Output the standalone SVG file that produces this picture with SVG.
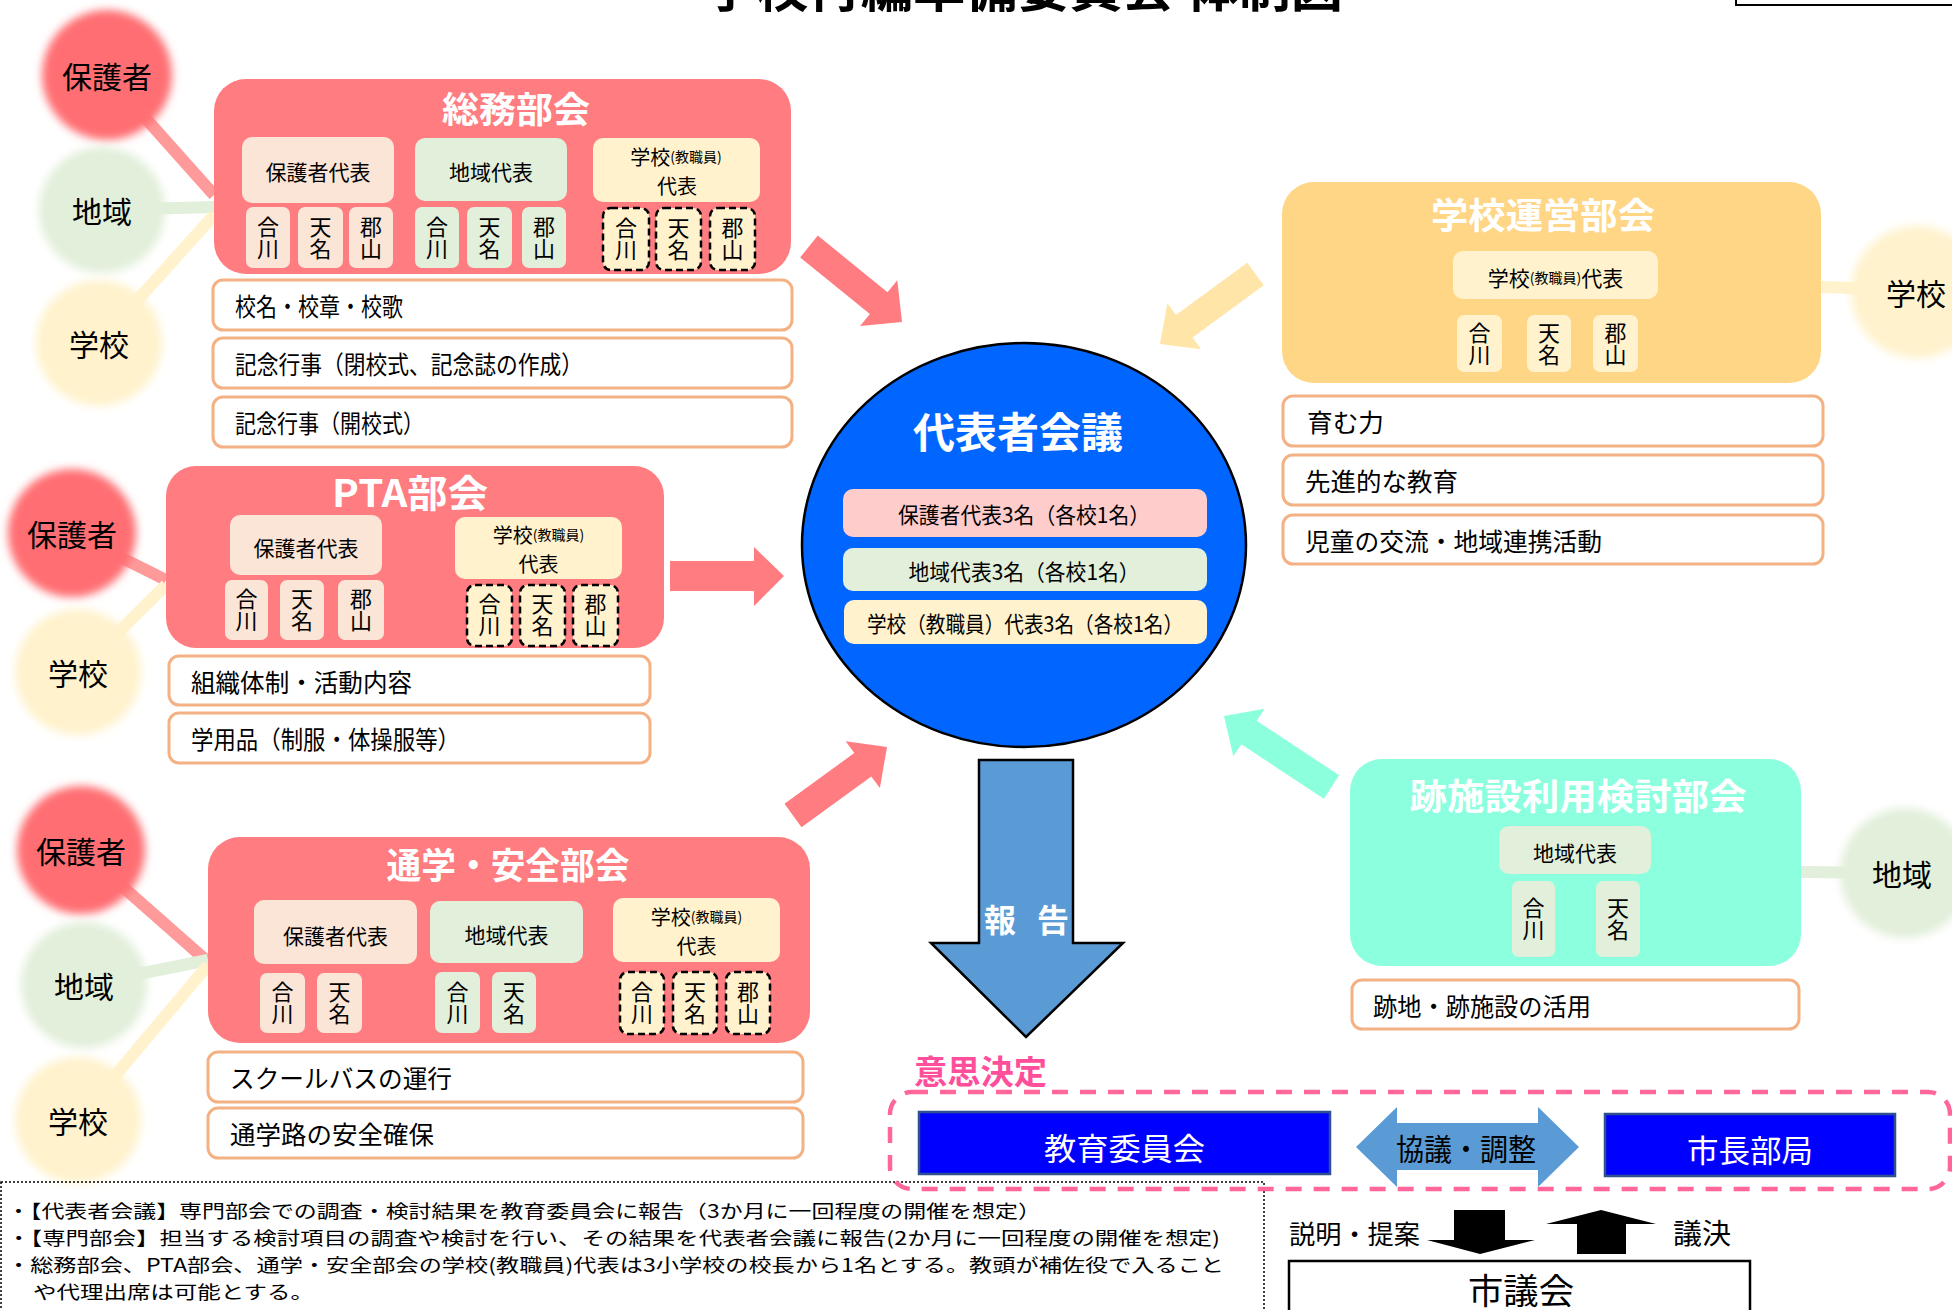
<svg xmlns="http://www.w3.org/2000/svg" width="1952" height="1310" viewBox="0 0 1952 1310">
<defs>
<filter id="soft" x="-25%" y="-25%" width="150%" height="150%"><feGaussianBlur stdDeviation="4.5"/></filter>
</defs>
<style>
text{font-family:"Noto Sans CJK JP","Noto Sans",sans-serif;fill:#000}
.c{text-anchor:middle;dominant-baseline:central}
.l{dominant-baseline:central}
.ttl{font-size:36px;font-weight:700;fill:#fff}
.sub{font-size:21px}
.sub2{font-size:20px}
.sm{font-size:14px}
.v{font-size:22px;writing-mode:vertical-rl;text-anchor:middle}
.it{font-size:25px}
.main{fill:#FF7C80}
.pe{fill:#FBE5D6}
.gr{fill:#E2EFDA}
.ye{fill:#FFF2CC}
.dash{fill:#FFF2CC;stroke:#000;stroke-width:2.5;stroke-dasharray:7 4}
.item{fill:#fff;stroke:#F4B183;stroke-width:3}
.cir{font-size:30px}
.red{fill:#FF6E72}
.ln{stroke-width:12;fill:none}
.lp{stroke:#FF9A9A}
.lg{stroke:#E2EFDA}
.ly{stroke:#FFF2CC}
.note{font-size:18.5px}
.wt{fill:#fff}
</style>
<rect x="0" y="0" width="1952" height="1310" fill="#fff"/>

<g id="title">
<text x="704" y="7" font-size="50" font-weight="700" textLength="639" lengthAdjust="spacingAndGlyphs">学校再編準備委員会 体制図</text>
<rect x="1736" y="-40" width="240" height="45" fill="#fff" stroke="#000" stroke-width="2"/>
</g>

<g id="connectors">
<path class="ln lp" d="M107,75 L214,195"/>
<path class="ln lg" d="M102,210 L214,207"/>
<path class="ln ly" d="M99,343 L214,215"/>
<path class="ln lp" d="M72,533 L166,580"/>
<path class="ln ly" d="M78,672 L166,585"/>
<path class="ln lp" d="M81,850 L208,962"/>
<path class="ln lg" d="M84,985 L208,960"/>
<path class="ln ly" d="M78,1120 L208,965"/>
<path class="ln ly" d="M1821,287 L1917,290"/>
<path class="ln lg" d="M1801,872 L1905,873"/>
<polygon fill="#FF7C80" points="817.8,235.6 887.5,292.2 897.3,280.2 902,322 860.1,326 869.9,314 800.2,257.4"/>
<polygon fill="#FF7C80" points="670,561 754,561 754,547 784,576 754,606 754,591 670,591"/>
<polygon fill="#FF7C80" points="784.5,803.8 854.3,753 845.7,741.3 887,747 879.9,788.1 871.3,776.4 801.5,827.2"/>
<polygon fill="#FFE6A8" points="1247.2,262.7 1175.9,315 1167.4,303.3 1160,344 1201,349.3 1192.5,337.6 1263.8,285.3"/>
<polygon fill="#8CFFDC" points="1339.2,775.3 1256.7,720.8 1264.7,708.7 1224,716 1233.3,756.3 1241.3,744.2 1323.8,798.7"/>
<polygon fill="#5B9BD5" stroke="#000" stroke-width="2.5" points="979,760 1073,760 1073,943 1123,943 1026,1037 931,943 979,943"/>
<text class="l wt" x="984" y="918" font-size="32" font-weight="700">報<tspan x="1037">告</tspan></text>
<polygon fill="#000" points="1454,1210 1505,1210 1505,1240 1535,1240 1480,1254 1427,1240 1454,1240"/>
<polygon fill="#000" points="1601,1210 1656,1224 1626,1224 1626,1254 1577,1254 1577,1224 1546,1224"/>
</g>

<g id="p1"><circle class="red" cx="107" cy="75" r="65" filter="url(#soft)"/><text class="c cir" x="107" y="75">保護者</text></g>
<g id="c1"><circle class="gr" cx="102" cy="210" r="63" filter="url(#soft)"/><text class="c cir" x="102" y="210">地域</text></g>
<g id="s1"><circle class="ye" cx="99" cy="343" r="63" filter="url(#soft)"/><text class="c cir" x="99" y="343">学校</text></g>
<g id="p2"><circle class="red" cx="72" cy="533" r="64" filter="url(#soft)"/><text class="c cir" x="72" y="533">保護者</text></g>
<g id="s2"><circle class="ye" cx="78" cy="672" r="63" filter="url(#soft)"/><text class="c cir" x="78" y="672">学校</text></g>
<g id="p3"><circle class="red" cx="81" cy="850" r="64" filter="url(#soft)"/><text class="c cir" x="81" y="850">保護者</text></g>
<g id="c3"><circle class="gr" cx="84" cy="985" r="63" filter="url(#soft)"/><text class="c cir" x="84" y="985">地域</text></g>
<g id="s3"><circle class="ye" cx="78" cy="1120" r="63" filter="url(#soft)"/><text class="c cir" x="78" y="1120">学校</text></g>
<g id="s4"><circle class="ye" cx="1917" cy="292" r="66" filter="url(#soft)"/><text class="c cir" x="1916" y="292">学校</text></g>
<g id="c5"><circle class="gr" cx="1905" cy="873" r="65" filter="url(#soft)"/><text class="c cir" x="1902" y="873">地域</text></g>

<g id="soumu">
<rect class="main" x="214" y="79" width="577" height="195" rx="32"/>
<text class="c ttl" x="516" y="107" textLength="148" lengthAdjust="spacingAndGlyphs">総務部会</text>
<rect class="pe" x="242" y="137" width="152" height="66" rx="10"/>
<text class="c sub" x="318" y="171">保護者代表</text>
<rect class="gr" x="415" y="138" width="152" height="63" rx="10"/>
<text class="c sub" x="491" y="171">地域代表</text>
<rect class="ye" x="593" y="138" width="167" height="64" rx="10"/>
<text class="c sub2" x="676" y="156">学校<tspan class="sm">(教職員)</tspan></text>
<text class="c sub2" x="677" y="185.5">代表</text>
<rect class="pe" x="246" y="207" width="44" height="61" rx="7"/>
<rect class="pe" x="298" y="207" width="45" height="61" rx="7"/>
<rect class="pe" x="349" y="207" width="44" height="61" rx="7"/>
<rect class="gr" x="415" y="207" width="44" height="61" rx="7"/>
<rect class="gr" x="467" y="207" width="45" height="61" rx="7"/>
<rect class="gr" x="522" y="207" width="44" height="61" rx="7"/>
<rect class="dash" x="603" y="208" width="46" height="62" rx="8"/>
<rect class="dash" x="656" y="208" width="45" height="62" rx="8"/>
<rect class="dash" x="710" y="208" width="45" height="62" rx="8"/>
<text class="v" x="268" y="238">合川</text>
<text class="v" x="320.5" y="238">天名</text>
<text class="v" x="371" y="238">郡山</text>
<text class="v" x="437" y="238">合川</text>
<text class="v" x="489.5" y="238">天名</text>
<text class="v" x="544" y="238">郡山</text>
<text class="v" x="626" y="239">合川</text>
<text class="v" x="678.5" y="239">天名</text>
<text class="v" x="732.5" y="239">郡山</text>
<rect class="item" x="213" y="280" width="579" height="50" rx="10"/>
<text class="l it" x="235" y="305" textLength="168" lengthAdjust="spacingAndGlyphs">校名・校章・校歌</text>
<rect class="item" x="213" y="338" width="579" height="50" rx="10"/>
<text class="l it" x="235" y="363" textLength="348" lengthAdjust="spacingAndGlyphs">記念行事（閉校式、記念誌の作成）</text>
<rect class="item" x="213" y="397" width="579" height="50" rx="10"/>
<text class="l it" x="235" y="422" textLength="189" lengthAdjust="spacingAndGlyphs">記念行事（開校式）</text>
</g>

<g id="pta">
<rect class="main" x="166" y="466" width="498" height="182" rx="30"/>
<text class="c ttl" x="410" y="490" style="font-size:38px" textLength="156" lengthAdjust="spacingAndGlyphs">PTA部会</text>
<rect class="pe" x="230" y="515" width="152" height="60" rx="10"/>
<text class="c sub" x="306" y="547">保護者代表</text>
<rect class="ye" x="455" y="517" width="167" height="62" rx="10"/>
<text class="c sub2" x="538.5" y="534">学校<tspan class="sm">(教職員)</tspan></text>
<text class="c sub2" x="538.5" y="563.5">代表</text>
<rect class="pe" x="225" y="580" width="43" height="60" rx="7"/>
<rect class="pe" x="280" y="580" width="44" height="60" rx="7"/>
<rect class="pe" x="338" y="580" width="46" height="60" rx="7"/>
<rect class="dash" x="467" y="585" width="45" height="61" rx="8"/>
<rect class="dash" x="520" y="585" width="45" height="61" rx="8"/>
<rect class="dash" x="573" y="585" width="45" height="61" rx="8"/>
<text class="v" x="246.5" y="610">合川</text>
<text class="v" x="302" y="610">天名</text>
<text class="v" x="361" y="610">郡山</text>
<text class="v" x="489.5" y="615">合川</text>
<text class="v" x="542.5" y="615">天名</text>
<text class="v" x="595.5" y="615">郡山</text>
<rect class="item" x="169" y="656" width="481" height="49" rx="10"/>
<text class="l it" x="191" y="680.5" textLength="221" lengthAdjust="spacingAndGlyphs">組織体制・活動内容</text>
<rect class="item" x="169" y="713" width="481" height="50" rx="10"/>
<text class="l it" x="191" y="738" textLength="269" lengthAdjust="spacingAndGlyphs">学用品（制服・体操服等）</text>
</g>

<g id="tsugaku">
<rect class="main" x="208" y="837" width="602" height="206" rx="32"/>
<text class="c ttl" x="508" y="863" textLength="243" lengthAdjust="spacingAndGlyphs">通学・安全部会</text>
<rect class="pe" x="254" y="900" width="163" height="64" rx="10"/>
<text class="c sub" x="335.5" y="935">保護者代表</text>
<rect class="gr" x="430" y="901" width="153" height="62" rx="10"/>
<text class="c sub" x="506.5" y="934">地域代表</text>
<rect class="ye" x="613" y="898" width="167" height="64" rx="10"/>
<text class="c sub2" x="696.5" y="916">学校<tspan class="sm">(教職員)</tspan></text>
<text class="c sub2" x="696.5" y="945.5">代表</text>
<rect class="pe" x="260" y="973" width="45" height="60" rx="7"/>
<rect class="pe" x="317" y="973" width="45" height="60" rx="7"/>
<rect class="gr" x="435" y="972" width="45" height="61" rx="7"/>
<rect class="gr" x="492" y="972" width="44" height="61" rx="7"/>
<rect class="dash" x="620" y="972" width="44" height="62" rx="8"/>
<rect class="dash" x="673" y="972" width="44" height="62" rx="8"/>
<rect class="dash" x="726" y="972" width="44" height="62" rx="8"/>
<text class="v" x="282.5" y="1003">合川</text>
<text class="v" x="339.5" y="1003">天名</text>
<text class="v" x="457.5" y="1003">合川</text>
<text class="v" x="514" y="1003">天名</text>
<text class="v" x="642" y="1003">合川</text>
<text class="v" x="695" y="1003">天名</text>
<text class="v" x="748" y="1003">郡山</text>
<rect class="item" x="208" y="1052" width="595" height="50" rx="10"/>
<text class="l it" x="230" y="1077" textLength="222" lengthAdjust="spacingAndGlyphs">スクールバスの運行</text>
<rect class="item" x="208" y="1108" width="595" height="50" rx="10"/>
<text class="l it" x="230" y="1133" textLength="204" lengthAdjust="spacingAndGlyphs">通学路の安全確保</text>
</g>

<g id="unei">
<rect x="1282" y="182" width="539" height="201" rx="32" fill="#FFD686"/>
<text class="c ttl" x="1543" y="213" textLength="224" lengthAdjust="spacingAndGlyphs">学校運営部会</text>
<rect class="ye" x="1453" y="251" width="205" height="48" rx="10"/>
<text class="c sub" x="1555.5" y="277">学校<tspan class="sm">(教職員)</tspan>代表</text>
<rect class="ye" x="1457" y="315" width="45" height="57" rx="7"/>
<rect class="ye" x="1527" y="315" width="44" height="57" rx="7"/>
<rect class="ye" x="1593" y="315" width="45" height="57" rx="7"/>
<text class="v" x="1479.5" y="343.5">合川</text>
<text class="v" x="1549" y="343.5">天名</text>
<text class="v" x="1615.5" y="343.5">郡山</text>
<rect class="item" x="1283" y="396" width="540" height="50" rx="10"/>
<text class="l it" x="1307" y="421" textLength="77" lengthAdjust="spacingAndGlyphs">育む力</text>
<rect class="item" x="1283" y="455" width="540" height="50" rx="10"/>
<text class="l it" x="1305" y="480" textLength="153" lengthAdjust="spacingAndGlyphs">先進的な教育</text>
<rect class="item" x="1283" y="515" width="540" height="49" rx="10"/>
<text class="l it" x="1305" y="539.5" textLength="297" lengthAdjust="spacingAndGlyphs">児童の交流・地域連携活動</text>
</g>

<g id="atochi">
<rect x="1350" y="759" width="451" height="207" rx="32" fill="#8CFFDF"/>
<text class="c ttl" x="1578" y="794" textLength="337" lengthAdjust="spacingAndGlyphs">跡施設利用検討部会</text>
<rect class="gr" x="1499" y="826" width="152" height="48" rx="10"/>
<text class="c sub" x="1575" y="852">地域代表</text>
<rect class="gr" x="1512" y="881" width="43" height="76" rx="7"/>
<rect class="gr" x="1596" y="881" width="44" height="76" rx="7"/>
<text class="v" x="1533.5" y="919">合川</text>
<text class="v" x="1618" y="919">天名</text>
<rect class="item" x="1352" y="980" width="447" height="49" rx="10"/>
<text class="l it" x="1373" y="1004.5" textLength="218" lengthAdjust="spacingAndGlyphs">跡地・跡施設の活用</text>
</g>

<g id="daihyo">
<ellipse cx="1024" cy="545" rx="222" ry="202" fill="#0066FF" stroke="#000" stroke-width="2.5"/>
<text class="c wt" x="1018" y="429" font-size="42" font-weight="700" textLength="210" lengthAdjust="spacingAndGlyphs">代表者会議</text>
<rect x="843" y="489" width="364" height="48" rx="10" fill="#FFCCCC"/>
<text class="c" x="1024" y="513" font-size="22" textLength="252" lengthAdjust="spacingAndGlyphs">保護者代表3名（各校1名）</text>
<rect x="843" y="548" width="364" height="43" rx="10" fill="#E2EFDA"/>
<text class="c" x="1024" y="570" font-size="22" textLength="231" lengthAdjust="spacingAndGlyphs">地域代表3名（各校1名）</text>
<rect x="844" y="600" width="363" height="44" rx="10" fill="#FFF2CC"/>
<text class="c" x="1025" y="622" font-size="22" textLength="316" lengthAdjust="spacingAndGlyphs">学校（教職員）代表3名（各校1名）</text>
</g>

<g id="notes">
<rect x="1" y="1182" width="1263" height="140" fill="none" stroke="#000" stroke-width="1.5" stroke-dasharray="2 2"/>
<text class="l note" x="7" y="1210" textLength="1034" lengthAdjust="spacingAndGlyphs">・【代表者会議】専門部会での調査・検討結果を教育委員会に報告（3か月に一回程度の開催を想定）</text>
<text class="l note" x="7" y="1237" textLength="1213" lengthAdjust="spacingAndGlyphs">・【専門部会】担当する検討項目の調査や検討を行い、その結果を代表者会議に報告(2か月に一回程度の開催を想定)</text>
<text class="l note" x="7" y="1264" textLength="1217" lengthAdjust="spacingAndGlyphs">・総務部会、PTA部会、通学・安全部会の学校(教職員)代表は3小学校の校長から1名とする。教頭が補佐役で入ること</text>
<text class="l note" x="33" y="1291" textLength="281" lengthAdjust="spacingAndGlyphs">や代理出席は可能とする。</text>
</g>

<g id="ishikettei">
<rect x="890" y="1092" width="1060" height="97" rx="22" fill="none" stroke="#FF6699" stroke-width="4.5" stroke-dasharray="16 12"/>
<text class="l" x="914" y="1070" font-size="33" font-weight="700" style="fill:#FF4F9A" textLength="133" lengthAdjust="spacingAndGlyphs">意思決定</text>
</g>

<g id="kyoiku">
<rect x="919" y="1112" width="411" height="62" fill="#0000FF" stroke="#2F528F" stroke-width="2.5"/>
<text class="c wt" x="1124.5" y="1146" font-size="31" textLength="161" lengthAdjust="spacingAndGlyphs">教育委員会</text>
</g>

<g id="kyogi">
<polygon fill="#5B9BD5" points="1356,1147 1397,1107 1397,1123 1538,1123 1538,1107 1579,1147 1538,1187 1538,1170 1397,1170 1397,1187"/>
<text class="c" x="1466" y="1147" font-size="30" textLength="140" lengthAdjust="spacingAndGlyphs">協議・調整</text>
</g>

<g id="shicho">
<rect x="1605" y="1114" width="290" height="62" fill="#0000FF" stroke="#2F528F" stroke-width="2.5"/>
<text class="c wt" x="1750" y="1148" font-size="31" textLength="126" lengthAdjust="spacingAndGlyphs">市長部局</text>
</g>

<g id="gikai">
<text class="l" x="1289" y="1232" font-size="26" textLength="131" lengthAdjust="spacingAndGlyphs">説明・提案</text>
<text class="l" x="1673" y="1232" font-size="28" textLength="58" lengthAdjust="spacingAndGlyphs">議決</text>
<rect x="1289" y="1261" width="461" height="70" fill="#fff" stroke="#000" stroke-width="2.5"/>
<text class="c" x="1521" y="1288" font-size="35" textLength="106" lengthAdjust="spacingAndGlyphs">市議会</text>
</g>
</svg>
